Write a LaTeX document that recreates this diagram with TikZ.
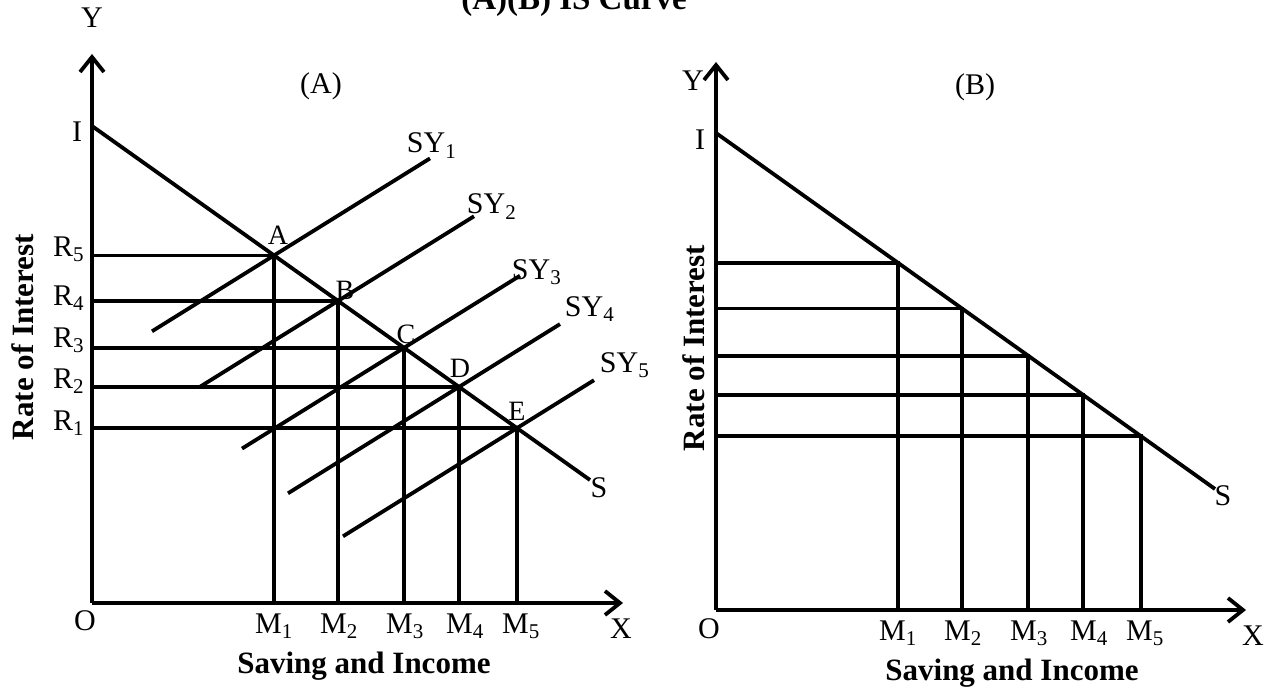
\documentclass[tikz,border=0pt]{standalone}
\usepackage{fontspec}
\setmainfont{Liberation Serif}
\usetikzlibrary{arrows.meta}
\begin{document}
\begin{tikzpicture}[x=1pt,y=-1pt,line width=3.8pt,
  axis/.style={-{Straight Barb[length=15pt,width=24pt,line width=3.8pt]}},
  lbl/.style={font=\fontsize{30}{36}\selectfont,inner sep=0pt},
  ptl/.style={font=\fontsize{28}{34}\selectfont,inner sep=0pt},
  bold/.style={font=\fontsize{31}{37}\selectfont\bfseries,inner sep=0pt},
  ttl/.style={font=\fontsize{33}{40}\selectfont\bfseries,inner sep=0pt}]
\useasboundingbox (0,0) rectangle (1274,687);

% ---------------- Title ----------------
\node[ttl,anchor=base] (title) at (574,10) {(A)(B) IS Curve};

% ---------------- Panel A ----------------
\coordinate (OA) at (92,603);
\coordinate (YA) at (92,54);
\coordinate (XA) at (623,603);
\coordinate (IA) at (92,126);
\coordinate (SA) at (590,480);
\coordinate (A) at (274,255.4);
\coordinate (B) at (338,300.9);
\coordinate (C) at (404,347.8);
\coordinate (D) at (459,386.9);
\coordinate (E) at (517,428.1);
\coordinate (MA1) at (274,603);
\coordinate (MA2) at (338,603);
\coordinate (MA3) at (404,603);
\coordinate (MA4) at (459,603);
\coordinate (MA5) at (517,603);
\coordinate (RA5) at (92,255.4);
\coordinate (RA4) at (92,300.9);
\coordinate (RA3) at (92,347.8);
\coordinate (RA2) at (92,386.9);
\coordinate (RA1) at (92,428.1);
\coordinate (sy1a) at (152,331.3);
\coordinate (sy1b) at (430,158.4);
\coordinate (sy2a) at (199,387.4);
\coordinate (sy2b) at (474,216.3);
\coordinate (sy3a) at (242,448.6);
\coordinate (sy3b) at (520,275.7);
\coordinate (sy4a) at (288,493.3);
\coordinate (sy4b) at (560,324.1);
\coordinate (sy5a) at (343,536.3);
\coordinate (sy5b) at (594,380.2);

\draw[axis] (OA) -- (YA);
\draw[axis] (OA) -- (XA);
\draw (IA) -- (SA);
\foreach \p/\m/\r in {A/MA1/RA5,B/MA2/RA4,C/MA3/RA3,D/MA4/RA2,E/MA5/RA1}
  \draw (\r) -- (\p) -- (\m);
\foreach \i in {1,...,5}
  \draw (sy\i a) -- (sy\i b);

\node[lbl] (lYA) at (92,18) {Y};
\node[lbl] (lIA) at (77,132) {I};
\node[lbl] (lOA) at (85,621) {O};
\node[lbl] (lXA) at (621,629) {X};
\node[lbl] (lSA) at (599,488) {S};
\node[lbl] (lpA) at (321,86) {(A)};
\node[ptl] (lA) at (278,235) {A};
\node[ptl] (lB) at (345,290) {B};
\node[ptl] (lC) at (406,334) {C};
\node[ptl] (lD) at (460,368) {D};
\node[ptl] (lE) at (517,411) {E};
\node[lbl,anchor=base west] (lsy1) at (405,153) {SY\textsubscript{1}};
\node[lbl,anchor=base west] (lsy2) at (465,214) {SY\textsubscript{2}};
\node[lbl,anchor=base west] (lsy3) at (510,279) {SY\textsubscript{3}};
\node[lbl,anchor=base west] (lsy4) at (563,316) {SY\textsubscript{4}};
\node[lbl,anchor=base west] (lsy5) at (598,372) {SY\textsubscript{5}};
\node[lbl,anchor=base east] (lR5) at (86,256) {R\textsubscript{5}};
\node[lbl,anchor=base east] (lR4) at (86,305) {R\textsubscript{4}};
\node[lbl,anchor=base east] (lR3) at (86,347) {R\textsubscript{3}};
\node[lbl,anchor=base east] (lR2) at (86,388) {R\textsubscript{2}};
\node[lbl,anchor=base east] (lR1) at (86,430) {R\textsubscript{1}};
\node[lbl,anchor=base] (lM1) at (274,633) {M\textsubscript{1}};
\node[lbl,anchor=base] (lM2) at (339,633) {M\textsubscript{2}};
\node[lbl,anchor=base] (lM3) at (405,633) {M\textsubscript{3}};
\node[lbl,anchor=base] (lM4) at (465,633) {M\textsubscript{4}};
\node[lbl,anchor=base] (lM5) at (521,633) {M\textsubscript{5}};
\node[bold,rotate=90] (rateA) at (23,337) {Rate of Interest};
\node[bold,anchor=base] (savA) at (364,673) {Saving and Income};

% ---------------- Panel B ----------------
\coordinate (OB) at (716,610);
\coordinate (YB) at (716,62);
\coordinate (XB) at (1246,610);
\coordinate (IB) at (716,133);
\coordinate (SB) at (1215,489);
\coordinate (P1) at (898,262.8);
\coordinate (P2) at (962,308.5);
\coordinate (P3) at (1028,355.6);
\coordinate (P4) at (1083,394.8);
\coordinate (P5) at (1141,436.2);
\coordinate (MB1) at (898,610);
\coordinate (MB2) at (962,610);
\coordinate (MB3) at (1028,610);
\coordinate (MB4) at (1083,610);
\coordinate (MB5) at (1141,610);
\coordinate (RB1) at (716,262.8);
\coordinate (RB2) at (716,308.5);
\coordinate (RB3) at (716,355.6);
\coordinate (RB4) at (716,394.8);
\coordinate (RB5) at (716,436.2);

\draw[axis] (OB) -- (YB);
\draw[axis] (OB) -- (XB);
\draw (IB) -- (SB);
\foreach \i in {1,...,5}
  \draw (RB\i) -- (P\i) -- (MB\i);

\node[lbl] (lYB) at (693,81) {Y};
\node[lbl] (lIB) at (700,140) {I};
\node[lbl] (lOB) at (709,629) {O};
\node[lbl] (lXB) at (1253,636) {X};
\node[lbl] (lSB) at (1223,496) {S};
\node[lbl] (lpB) at (975,87) {(B)};
\node[lbl,anchor=base] (lMB1) at (898,640) {M\textsubscript{1}};
\node[lbl,anchor=base] (lMB2) at (963,640) {M\textsubscript{2}};
\node[lbl,anchor=base] (lMB3) at (1029,640) {M\textsubscript{3}};
\node[lbl,anchor=base] (lMB4) at (1089,640) {M\textsubscript{4}};
\node[lbl,anchor=base] (lMB5) at (1145,640) {M\textsubscript{5}};
\node[bold,rotate=90] (rateB) at (694,348) {Rate of Interest};
\node[bold,anchor=base] (savB) at (1012,680) {Saving and Income};
\end{tikzpicture}
\end{document}
